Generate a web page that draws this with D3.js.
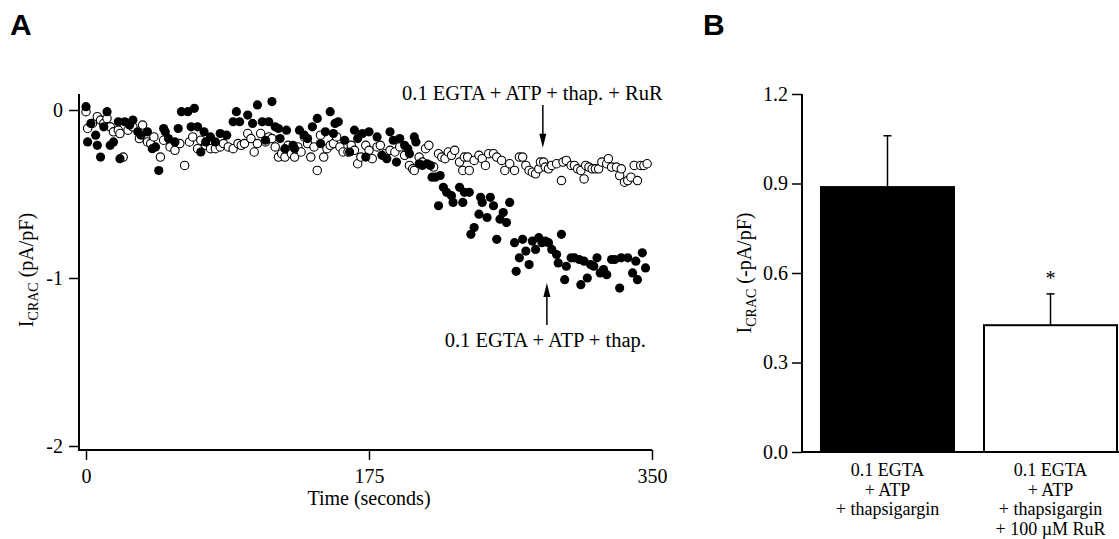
<!DOCTYPE html>
<html>
<head>
  <meta charset="utf-8">
  <script src="https://cdn.jsdelivr.net/npm/d3@7"></script>
  <style>
    body { margin: 0; background: #fff; }
    text { font-family: "Liberation Serif", "Times New Roman", serif; fill: #000; }
    .panel { font-family: "Liberation Sans", Arial, sans-serif; font-weight: bold; font-size: 30px; }
  </style>
</head>
<body>
<script>
// ---- panel A data: time (s) and I_CRAC (pA/pF) ----
var filledTime = [
  0,1,3,6,7,9,11,13,15,17,
  20,21,24,27,29,32,34,38,41,43,
  45,48,49,51,55,57,59,63,65,67,
  69,71,73,74,77,80,83,87,91,93,
  95,100,103,106,109,111,113,115,117,119,
  120,123,124,128,129,132,135,137,140,143,
  145,148,151,153,154,156,160,163,166,168,
  171,173,175,180,183,186,188,190,192,194,
  197,199,200,203,204,206,208,211,213,214,
  216,218,219,221,223,226,227,231,233,234,
  237,238,240,243,244,245,248,250,252,254,
  256,258,260,262,265,266,268,270,272,274,
  276,278,280,282,284,286,288,291,292,294,
  296,297,300,302,305,306,308,310,312,314,
  316,318,320,322,325,327,330,331,335,338,
  340,341,344,346
];
var filledCurrent = [
  0.02,-0.19,-0.08,-0.15,-0.21,-0.28,-0.10,-0.01,-0.21,-0.19,
  -0.07,-0.29,-0.07,-0.09,-0.06,-0.13,-0.15,-0.13,-0.23,-0.22,
  -0.36,-0.11,-0.13,-0.17,-0.19,-0.11,-0.01,-0.01,-0.10,0.01,
  -0.10,-0.25,-0.13,-0.19,-0.16,-0.19,-0.14,-0.15,-0.07,-0.01,
  -0.07,-0.03,-0.08,0.03,-0.07,-0.18,-0.07,0.05,-0.10,-0.11,
  -0.17,-0.23,-0.12,-0.21,-0.23,-0.12,-0.15,-0.17,-0.10,-0.05,
  -0.20,-0.13,-0.01,-0.14,-0.08,-0.07,-0.18,-0.25,-0.12,-0.17,
  -0.14,-0.28,-0.13,-0.16,-0.27,-0.29,-0.13,-0.18,-0.31,-0.17,
  -0.21,-0.23,-0.26,-0.16,-0.19,-0.32,-0.33,-0.32,-0.33,-0.40,
  -0.40,-0.57,-0.39,-0.46,-0.49,-0.51,-0.55,-0.46,-0.55,-0.49,
  -0.49,-0.74,-0.70,-0.62,-0.52,-0.55,-0.64,-0.52,-0.57,-0.77,
  -0.65,-0.61,-0.67,-0.55,-0.79,-0.96,-0.88,-0.77,-0.84,-0.92,
  -0.78,-0.83,-0.76,-0.79,-0.78,-0.79,-0.83,-0.86,-0.91,-0.74,
  -1.01,-0.93,-0.88,-0.88,-0.89,-1.04,-0.90,-1.00,-0.92,-0.93,
  -0.88,-0.97,-0.95,-0.98,-0.89,-0.89,-1.06,-0.88,-0.88,-0.97,
  -0.90,-1.01,-0.85,-0.94
];
var openTime = [
  0,1,4,7,9,11,13,15,17,20,
  21,23,26,29,33,35,38,40,42,46,
  48,52,55,58,61,64,66,69,71,74,
  77,80,83,85,88,91,94,96,98,100,
  102,104,106,108,111,113,115,117,119,121,
  123,125,127,129,131,133,135,137,139,141,
  143,145,147,149,151,153,155,157,159,162,
  164,166,168,170,173,175,177,180,182,185,
  188,191,194,197,200,202,203,206,208,210,
  212,215,218,220,222,224,226,228,231,233,
  234,236,237,240,243,245,247,249,252,254,
  257,259,262,265,268,270,272,274,276,278,
  280,281,283,284,286,288,291,294,295,297,
  300,302,304,306,308,309,311,313,315,317,
  319,322,323,325,328,330,331,333,335,337,
  339,341,343,345,347
];
var openCurrent = [
  -0.01,-0.11,-0.08,-0.04,-0.06,-0.08,-0.05,-0.10,-0.13,-0.12,
  -0.14,-0.28,-0.12,-0.10,-0.17,-0.09,-0.19,-0.20,-0.16,-0.28,
  -0.18,-0.22,-0.24,-0.20,-0.33,-0.19,-0.16,-0.23,-0.18,-0.21,
  -0.23,-0.23,-0.22,-0.20,-0.22,-0.23,-0.20,-0.21,-0.20,-0.14,
  -0.17,-0.25,-0.20,-0.14,-0.19,-0.16,-0.17,-0.22,-0.28,-0.26,
  -0.28,-0.21,-0.26,-0.28,-0.22,-0.25,-0.16,-0.20,-0.28,-0.22,
  -0.36,-0.15,-0.28,-0.23,-0.21,-0.20,-0.16,-0.22,-0.25,-0.25,
  -0.21,-0.24,-0.32,-0.28,-0.21,-0.24,-0.29,-0.22,-0.21,-0.26,
  -0.24,-0.25,-0.22,-0.27,-0.33,-0.35,-0.36,-0.28,-0.31,-0.23,
  -0.21,-0.34,-0.26,-0.28,-0.29,-0.25,-0.27,-0.24,-0.31,-0.36,
  -0.28,-0.28,-0.36,-0.30,-0.27,-0.29,-0.33,-0.26,-0.26,-0.28,
  -0.30,-0.36,-0.32,-0.36,-0.28,-0.28,-0.33,-0.36,-0.37,-0.38,
  -0.35,-0.31,-0.31,-0.34,-0.35,-0.33,-0.32,-0.42,-0.31,-0.30,
  -0.33,-0.33,-0.35,-0.36,-0.41,-0.33,-0.34,-0.35,-0.35,-0.35,
  -0.31,-0.32,-0.29,-0.34,-0.34,-0.39,-0.35,-0.43,-0.42,-0.40,
  -0.33,-0.42,-0.33,-0.33,-0.32
];
var timeTicks = [0, 175, 350];
var currentTicks = [0, -1, -2];

// ---- panel B data ----
var groups = ["ctrl", "rur"];
var groupLabels = [
  ["0.1 EGTA", "+ ATP", "+ thapsigargin"],
  ["0.1 EGTA", "+ ATP", "+ thapsigargin", "+ 100 \u00B5M RuR"]
];
var meanCurrent = [0.888, 0.425];
var semCurrent = [0.172, 0.105];
var barTicks = [0, 0.3, 0.6, 0.9, 1.2];

var svg = d3.select("body").append("svg")
    .attr("width", 1119)
    .attr("height", 539);

/*
  Panel A: scatter
*/
var xA = d3.scaleLinear().domain([0, 350]).range([86, 652]);
var yA = d3.scaleLinear().domain([-2, 0]).range([446, 110]);

svg.append("text").attr("class", "panel").attr("x", 10).attr("y", 35).text("A");

var gA = svg.append("g");

// plain hyphen for negative labels, like the original figure
var yAxisA = gA.append("g")
    .attr("transform", "translate(79,0)")
    .call(d3.axisLeft(yA).tickValues(currentTicks).tickFormat(function(d) { return String(d); }).tickSize(10).tickPadding(6));
var xAxisA = gA.append("g")
    .attr("transform", "translate(0,450)")
    .call(d3.axisBottom(xA).tickValues(timeTicks).tickSize(10).tickPadding(9));
[yAxisA, xAxisA].forEach(function(ax) {
  ax.select(".domain").remove();
  ax.selectAll("line").attr("stroke", "#000").attr("stroke-width", 1.5);
  ax.selectAll("text").style("font-size", "20px").style("font-family", "Liberation Serif, serif");
});
gA.append("line").attr("x1", 79).attr("x2", 79).attr("y1", 94).attr("y2", 450)
    .attr("stroke", "#000").attr("stroke-width", 2);
gA.append("line").attr("x1", 78).attr("x2", 652).attr("y1", 450).attr("y2", 450)
    .attr("stroke", "#000").attr("stroke-width", 2);

var openData = openTime.map(function(t, i) { return {t: t, v: openCurrent[i]}; });
var filledData = filledTime.map(function(t, i) { return {t: t, v: filledCurrent[i]}; });

gA.append("g").selectAll("circle").data(openData).enter().append("circle")
    .attr("cx", function(d) { return xA(d.t); })
    .attr("cy", function(d) { return yA(d.v); })
    .attr("r", 4.2)
    .attr("fill", "#fff").attr("stroke", "#000").attr("stroke-width", 1.1);
gA.append("g").selectAll("circle").data(filledData).enter().append("circle")
    .attr("cx", function(d) { return xA(d.t); })
    .attr("cy", function(d) { return yA(d.v); })
    .attr("r", 4.6)
    .attr("fill", "#000");

gA.append("text").attr("x", 369).attr("y", 505).attr("text-anchor", "middle")
    .style("font-size", "20px").text("Time (seconds)");

var yTitleA = gA.append("text")
    .attr("transform", "translate(33,270) rotate(-90)")
    .attr("text-anchor", "middle")
    .style("font-size", "20px");
yTitleA.append("tspan").text("I");
yTitleA.append("tspan").attr("dy", 5).style("font-size", "14px").text("CRAC");
yTitleA.append("tspan").attr("dy", -5).text(" (pA/pF)");

// annotations
function arrow(t, vFrom, vTo) {
  var x = xA(t), y1 = yA(vFrom), y2 = yA(vTo);
  var dir = y2 > y1 ? 1 : -1;
  gA.append("line").attr("x1", x).attr("x2", x).attr("y1", y1).attr("y2", y2 - dir * 10)
      .attr("stroke", "#000").attr("stroke-width", 1.5);
  gA.append("path")
      .attr("d", "M" + (x - 3.5) + "," + (y2 - dir * 14) + "L" + x + "," + y2 + "L" + (x + 3.5) + "," + (y2 - dir * 14) + "Z")
      .attr("fill", "#000");
}
gA.append("text").attr("x", xA(276)).attr("y", yA(0.06)).attr("text-anchor", "middle")
    .style("font-size", "20.5px").text("0.1 EGTA + ATP + thap. + RuR");
arrow(282.5, 0.03, -0.225);
gA.append("text").attr("x", xA(284)).attr("y", yA(-1.41)).attr("text-anchor", "middle")
    .style("font-size", "20.5px").text("0.1 EGTA + ATP + thap.");
arrow(285, -1.28, -1.03);

/*
  Panel B: bars
*/
svg.append("text").attr("class", "panel").attr("x", 703).attr("y", 35).text("B");

var xB = d3.scaleBand().domain(groups).range([805, 1133]).paddingInner(0.184).paddingOuter(0.098);
var yB = d3.scaleLinear().domain([0, 1.2]).range([452, 94]);

var gB = svg.append("g");
var yAxisB = gB.append("g")
    .attr("transform", "translate(802,0)")
    .call(d3.axisLeft(yB).tickValues(barTicks).tickFormat(d3.format(".1f")).tickSize(10).tickPadding(4));
yAxisB.select(".domain").remove();
yAxisB.selectAll("line").attr("stroke", "#000").attr("stroke-width", 1.5);
yAxisB.selectAll("text").style("font-size", "20px").style("font-family", "Liberation Serif, serif");

var bars = groups.map(function(g, i) { return {g: g, m: meanCurrent[i], s: semCurrent[i], i: i}; });

// error bars (upper only)
gB.selectAll(".err").data(bars).enter().append("line")
    .attr("x1", function(d) { return xB(d.g) + xB.bandwidth() / 2; })
    .attr("x2", function(d) { return xB(d.g) + xB.bandwidth() / 2; })
    .attr("y1", function(d) { return yB(d.m); })
    .attr("y2", function(d) { return yB(d.m + d.s); })
    .attr("stroke", "#000").attr("stroke-width", 1.5);
gB.selectAll(".cap").data(bars).enter().append("line")
    .attr("x1", function(d) { return xB(d.g) + xB.bandwidth() / 2 - 4; })
    .attr("x2", function(d) { return xB(d.g) + xB.bandwidth() / 2 + 4; })
    .attr("y1", function(d) { return yB(d.m + d.s); })
    .attr("y2", function(d) { return yB(d.m + d.s); })
    .attr("stroke", "#000").attr("stroke-width", 1.5);

gB.selectAll(".bar").data(bars).enter().append("rect")
    .attr("x", function(d) { return xB(d.g); })
    .attr("y", function(d) { return yB(d.m); })
    .attr("width", xB.bandwidth())
    .attr("height", function(d) { return yB(0) - yB(d.m); })
    .attr("fill", function(d) { return d.i === 0 ? "#000" : "#fff"; })
    .attr("stroke", "#000").attr("stroke-width", 2);

gB.append("line").attr("x1", 802).attr("x2", 802).attr("y1", 94).attr("y2", 452)
    .attr("stroke", "#000").attr("stroke-width", 2);
gB.append("line").attr("x1", 801).attr("x2", 1119).attr("y1", 452).attr("y2", 452)
    .attr("stroke", "#000").attr("stroke-width", 2);

// significance star
gB.append("text")
    .attr("x", xB("rur") + xB.bandwidth() / 2)
    .attr("y", yB(meanCurrent[1] + semCurrent[1]) - 9)
    .attr("text-anchor", "middle").style("font-size", "20px").text("*");

// category labels
groups.forEach(function(g, i) {
  var t = gB.append("text")
      .attr("x", xB(g) + xB.bandwidth() / 2)
      .attr("y", 476)
      .attr("text-anchor", "middle")
      .style("font-size", "18px");
  groupLabels[i].forEach(function(line, j) {
    t.append("tspan").attr("x", xB(g) + xB.bandwidth() / 2).attr("dy", j === 0 ? 0 : 19.5).text(line);
  });
});

var yTitleB = gB.append("text")
    .attr("transform", "translate(751,273) rotate(-90)")
    .attr("text-anchor", "middle")
    .style("font-size", "20px");
yTitleB.append("tspan").text("I");
yTitleB.append("tspan").attr("dy", 5).style("font-size", "14px").text("CRAC");
yTitleB.append("tspan").attr("dy", -5).text(" (-pA/pF)");
</script>
</body>
</html>
